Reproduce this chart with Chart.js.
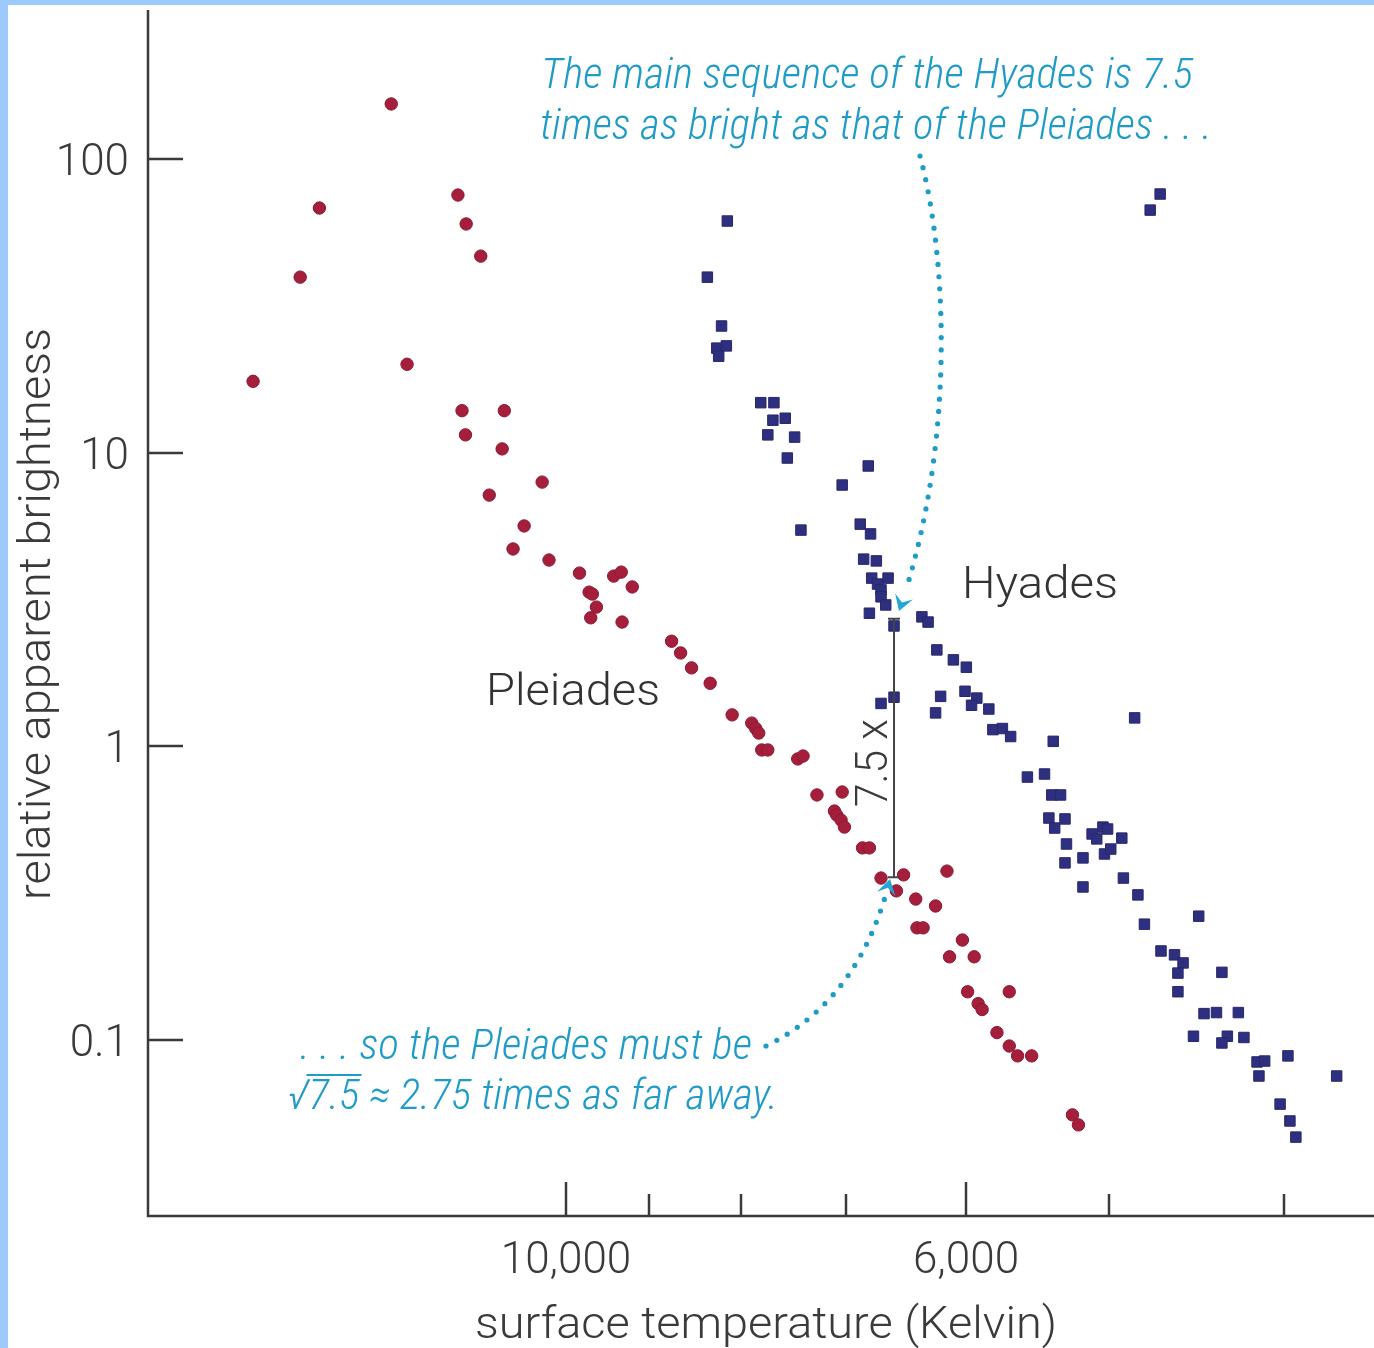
<!DOCTYPE html>
<html>
<head>
<meta charset="utf-8">
<script src="https://cdn.jsdelivr.net/npm/chart.js@4.4.1/dist/chart.umd.min.js"></script>
<style>
  html, body { margin: 0; padding: 0; background: #fff; }
  canvas { display: block; }
</style>
</head>
<body>
<canvas id="chart" width="1374" height="1348"></canvas>
<script>
// --- Data (temperature in K, relative apparent brightness) ---
const pleiadesTemp = [14910, 14040, 13700, 12500, 12250, 11480, 11360, 11150, 11420, 10820,
  11370, 10850, 10310, 11030, 10550, 10700, 10220, 9830, 9410, 9320,
  9190, 9710, 9670, 9620, 9690, 9310, 8740, 8640, 8520, 8320,
  8090, 7890, 7850, 7820, 7790, 7730, 7440, 7390, 7260, 7030,
  7100, 7080, 7040, 7010, 6850, 6790, 6690, 6500, 6150, 6560,
  6400, 6240, 6390, 6340, 6030, 6130, 5940, 5990, 5680, 5910,
  5880, 5770, 5680, 5620, 5520, 5240, 5200];
const pleiadesBright = [17.5, 39.6, 68.1, 154, 20.0, 75.4, 60.1, 46.7, 13.9, 13.9,
  11.5, 10.3, 7.94, 7.17, 5.63, 4.70, 4.31, 3.89, 3.80, 3.92,
  3.49, 3.35, 3.30, 2.98, 2.74, 2.65, 2.28, 2.08, 1.85, 1.64,
  1.28, 1.20, 1.15, 1.11, 0.972, 0.972, 0.906, 0.927, 0.683, 0.699,
  0.602, 0.584, 0.561, 0.531, 0.451, 0.451, 0.356, 0.365, 0.376, 0.322,
  0.302, 0.286, 0.241, 0.241, 0.219, 0.192, 0.192, 0.146, 0.146, 0.133,
  0.127, 0.106, 0.0954, 0.0883, 0.0883, 0.0556, 0.0514];

const hyadesTemp = [4685, 4745, 8140, 8350, 8200, 8250, 8150, 8230, 7800, 7670,
  7680, 7560, 7730, 7470, 7540, 6800, 7030, 7410, 6870, 6780,
  6840, 6730, 6770, 6630, 6720, 6690, 6690, 6650, 6790, 6580,
  6350, 6300, 6230, 6100, 6000, 6010, 5920, 5960, 6200, 6240,
  5830, 6690, 6580, 5800, 5730, 5670, 5370, 4840, 5550, 5430,
  5380, 5320, 5400, 5290, 5360, 5280, 5290, 5170, 5170, 5110,
  5080, 5040, 5010, 4920, 5030, 4990, 4910, 4820, 4460, 4780,
  4680, 4600, 4550, 4580, 4330, 4580, 4430, 4360, 4240, 4490,
  4300, 4330, 4210, 4140, 4100, 3980, 4130, 3740, 4020, 3970, 3940];
const hyadesBright = [76.0, 67.0, 61.5, 39.6, 27.0, 22.7, 23.1, 21.3, 14.8, 14.8,
  12.9, 13.1, 11.5, 11.3, 9.59, 9.01, 7.76, 5.45, 5.71, 5.29,
  4.34, 4.28, 3.74, 3.74, 3.57, 3.41, 3.23, 3.03, 2.84, 2.57,
  2.76, 2.65, 2.13, 1.97, 1.86, 1.54, 1.46, 1.38, 1.48, 1.30,
  1.34, 1.40, 1.47, 1.14, 1.15, 1.08, 1.04, 1.25, 0.786, 0.805,
  0.683, 0.683, 0.570, 0.566, 0.527, 0.465, 0.401, 0.417, 0.332, 0.503,
  0.484, 0.531, 0.523, 0.487, 0.430, 0.447, 0.356, 0.312, 0.264, 0.248,
  0.201, 0.195, 0.183, 0.169, 0.170, 0.146, 0.123, 0.124, 0.124, 0.103,
  0.103, 0.0977, 0.102, 0.0842, 0.0848, 0.0883, 0.0754, 0.0754, 0.0605, 0.0530, 0.0467];

// axis ticks
const yTicks = [0.1, 1, 10, 100];
const yTickLabels = ["0.1", "1", "10", "100"];
const xTicks = [10000, 9000, 8000, 7000, 6000, 5000, 4000];
const xTickLabels = ["10,000", "", "", "", "6,000", "", ""];

// the 7.5x bracket (Hyades vs Pleiades main sequence at same temperature)
const bracketTemp = 6580;
const bracketTop = 2.72;
const bracketBottom = 0.358;

// --- Styles ---
const AXIS = "#3a3a3a";
const TEAL = "#1e9bc7";
const SANS = "Roboto, 'Liberation Sans', Arial, sans-serif";
const NARROW = "'Roboto Condensed', 'Liberation Sans Narrow', 'DejaVu Sans Condensed', Roboto, sans-serif";

const toPoints = (xs, ys) => xs.map((x, i) => ({ x: x, y: ys[i] }));

// draw text squeezed/stretched to a given width
function fitText(ctx, text, x, y, width, align) {
  const w = ctx.measureText(text).width;
  const sx = width ? width / w : 1;
  ctx.save();
  ctx.translate(x, y);
  ctx.scale(sx, 1);
  ctx.textAlign = "left";
  let ox = 0;
  if (align === "center") ox = -w / 2;
  else if (align === "right") ox = -w;
  ctx.fillText(text, ox, 0);
  ctx.restore();
  return sx;
}

function bezierPoint(p, t) {
  const u = 1 - t;
  if (p.length === 3) {
    return [u * u * p[0][0] + 2 * u * t * p[1][0] + t * t * p[2][0],
            u * u * p[0][1] + 2 * u * t * p[1][1] + t * t * p[2][1]];
  }
  return [u * u * u * p[0][0] + 3 * u * u * t * p[1][0] + 3 * u * t * t * p[2][0] + t * t * t * p[3][0],
          u * u * u * p[0][1] + 3 * u * u * t * p[1][1] + 3 * u * t * t * p[2][1] + t * t * t * p[3][1]];
}

// dotted curve ending in an arrowhead at the last control point
function dottedArrow(ctx, pts, gap, tEnd) {
  ctx.fillStyle = TEAL;
  let prev = bezierPoint(pts, 0);
  let acc = gap;
  for (let i = 0; i <= 800; i++) {
    const t = (i / 800) * tEnd;
    const p = bezierPoint(pts, t);
    acc += Math.hypot(p[0] - prev[0], p[1] - prev[1]);
    prev = p;
    if (acc >= gap) {
      ctx.beginPath();
      ctx.arc(p[0], p[1], 2.6, 0, Math.PI * 2);
      ctx.fill();
      acc = 0;
    }
  }
  // arrowhead
  const tip = pts[pts.length - 1];
  const prevPt = pts[pts.length - 2];
  const ang = Math.atan2(tip[1] - prevPt[1], tip[0] - prevPt[0]);
  const len = 18, spread = 0.55;
  ctx.fillStyle = "#22a6d6";
  ctx.beginPath();
  ctx.moveTo(tip[0], tip[1]);
  ctx.lineTo(tip[0] - len * Math.cos(ang - spread), tip[1] - len * Math.sin(ang - spread));
  ctx.lineTo(tip[0] - 0.5 * len * Math.cos(ang), tip[1] - 0.5 * len * Math.sin(ang));
  ctx.lineTo(tip[0] - len * Math.cos(ang + spread), tip[1] - len * Math.sin(ang + spread));
  ctx.closePath();
  ctx.fill();
}

const overlay = {
  id: "overlay",
  beforeDraw(chart) {
    const ctx = chart.ctx;
    ctx.save();
    ctx.fillStyle = "#ffffff";
    ctx.fillRect(0, 0, chart.width, chart.height);
    ctx.fillStyle = "#9ccbfb";
    ctx.fillRect(0, 0, 8, chart.height);
    ctx.fillRect(0, 0, chart.width, 5);
    ctx.restore();
  },
  afterDraw(chart) {
    const ctx = chart.ctx;
    const { left, right, top, bottom } = chart.chartArea;
    const xs = chart.scales.x;
    const ys = chart.scales.y;
    ctx.save();

    // axes
    ctx.strokeStyle = AXIS;
    ctx.lineWidth = 2.5;
    ctx.beginPath();
    ctx.moveTo(left, top);
    ctx.lineTo(left, bottom);
    ctx.lineTo(right, bottom);
    ctx.stroke();

    ctx.fillStyle = AXIS;
    ctx.textBaseline = "alphabetic";
    ctx.font = "300 44px " + SANS;
    yTicks.forEach((v, i) => {
      const py = Math.round(ys.getPixelForValue(v));
      ctx.beginPath();
      ctx.moveTo(left, py);
      ctx.lineTo(left + 35, py);
      ctx.stroke();
      ctx.textAlign = "right";
      ctx.fillText(yTickLabels[i], 129, py + 16);
    });
    xTicks.forEach((v, i) => {
      const px = Math.round(xs.getPixelForValue(v));
      const len = xTickLabels[i] ? 34 : 22;
      ctx.beginPath();
      ctx.moveTo(px, bottom);
      ctx.lineTo(px, bottom - len);
      ctx.stroke();
      if (xTickLabels[i]) {
        ctx.textAlign = "center";
        ctx.fillText(xTickLabels[i], px, bottom + 57);
      }
    });

    // axis titles
    fitText(ctx, "surface temperature (Kelvin)", 766, 1338, 582, "center");
    ctx.save();
    ctx.translate(50, 614);
    ctx.rotate(-Math.PI / 2);
    fitText(ctx, "relative apparent brightness", 0, 0, 572, "center");
    ctx.restore();

    // cluster labels
    ctx.fillStyle = "#333";
    fitText(ctx, "Hyades", 962, 598, 156, "left");
    fitText(ctx, "Pleiades", 486, 705, 174, "left");

    // 7.5x bracket
    const bx = xs.getPixelForValue(bracketTemp);
    const by1 = ys.getPixelForValue(bracketTop);
    const by2 = ys.getPixelForValue(bracketBottom);
    ctx.strokeStyle = "#444";
    ctx.lineWidth = 2;
    ctx.beginPath();
    ctx.moveTo(bx, by1);
    ctx.lineTo(bx, by2);
    ctx.moveTo(bx - 6, by1);
    ctx.lineTo(bx + 6, by1);
    ctx.moveTo(bx - 6, by2);
    ctx.lineTo(bx + 6, by2);
    ctx.stroke();
    ctx.save();
    ctx.fillStyle = "#3a3a3a";
    ctx.translate(bx - 7, (by1 + by2) / 2 + 15);
    ctx.rotate(-Math.PI / 2);
    fitText(ctx, "7.5 x", 0, 0, 88, "center");
    ctx.restore();

    // annotation texts
    ctx.fillStyle = TEAL;
    ctx.font = "italic 300 42px " + NARROW;
    fitText(ctx, "The main sequence of the Hyades is 7.5", 541, 88, 652, "left");
    fitText(ctx, "times as bright as that of the Pleiades . . .", 540, 139, 672, "left");
    fitText(ctx, ". . . so the Pleiades must be", 300, 1059, 452, "left");

    // second line with square root
    const line2 = "\u221A7.5 \u2248 2.75 times as far away.";
    const w2 = ctx.measureText(line2).width;
    const sx = 490 / w2;
    fitText(ctx, line2, 288, 1109, 490, "left");
    const wRoot = ctx.measureText("\u221A").width * sx;
    const w75 = ctx.measureText("7.5").width * sx;
    ctx.strokeStyle = TEAL;
    ctx.lineWidth = 2;
    ctx.beginPath();
    ctx.moveTo(288 + wRoot - 2, 1075);
    ctx.lineTo(288 + wRoot + w75 + 2, 1075);
    ctx.stroke();

    // dotted arrows
    dottedArrow(ctx, [[920, 156], [948, 260], [955, 450], [899, 611]], 12, 0.94);
    dottedArrow(ctx, [[766, 1046], [860, 1000], [890, 879]], 12, 0.92);

    ctx.restore();
  }
};

const ctx = document.getElementById("chart").getContext("2d");
new Chart(ctx, {
  type: "scatter",
  data: {
    datasets: [
      {
        label: "Pleiades",
        data: toPoints(pleiadesTemp, pleiadesBright),
        pointStyle: "circle",
        pointRadius: 6.2,
        backgroundColor: "#a51f3c",
        borderColor: "#8c1a33",
        borderWidth: 1,
      },
      {
        label: "Hyades",
        data: toPoints(hyadesTemp, hyadesBright),
        pointStyle: "rect",
        pointRadius: 7.4,
        backgroundColor: "#2f2f7f",
        borderColor: "#27276e",
        borderWidth: 1,
      },
    ],
  },
  options: {
    responsive: false,
    animation: false,
    devicePixelRatio: 1,
    layout: { autoPadding: false, padding: { left: 148, right: 0, top: 10, bottom: 132 } },
    scales: {
      x: { type: "logarithmic", reverse: true, min: 3566, max: 17050, display: false },
      y: { type: "logarithmic", min: 0.02516, max: 321.7, display: false },
    },
    plugins: {
      legend: { display: false },
      tooltip: { enabled: false },
    },
    elements: { point: { hoverRadius: 6 } },
  },
  plugins: [overlay],
});
</script>
</body>
</html>
